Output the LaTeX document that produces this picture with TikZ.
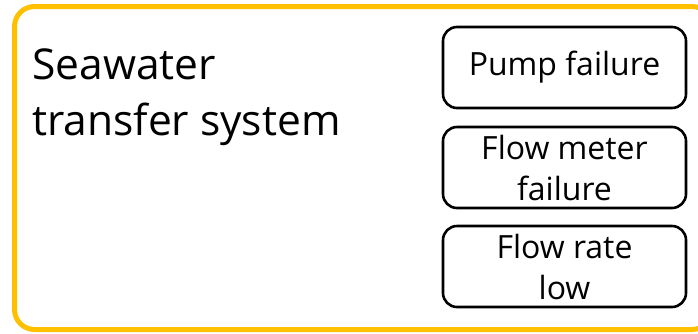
\documentclass[tikz,border=0pt]{standalone}
\usepackage{fontspec}
\setmainfont{Open Sans}
\definecolor{frameyellow}{HTML}{FFC000}
\begin{document}
\begin{tikzpicture}[x=1pt,y=-1pt,
  faultbox/.style={draw=black, line width=2.6pt, rounded corners=14pt,
    minimum width=243pt, minimum height=81pt, inner sep=0pt,
    align=center, font=\fontsize{32}{41}\selectfont},
  title/.style={inner sep=0pt, align=left, anchor=north west,
    font=\fontsize{42.5}{56}\selectfont}]
  \useasboundingbox (0,0) rectangle (698,333);
  \begin{scope}
    \clip (0,0) rectangle (698,333);
    \draw[frameyellow, line width=5pt, rounded corners=20pt]
      (14.5,6.5) rectangle (712,329.5);
  \end{scope}
  \node[title] (sys) at (32,49) {Seawater\\transfer system};
  \node[faultbox] (pump) at (564.5,67.5) {Pump failure};
  \node[faultbox] (meter) at (564.5,167.5) {Flow meter\\failure};
  \node[faultbox] (rate) at (564.5,266.5) {Flow rate\\low};
\end{tikzpicture}
\end{document}
